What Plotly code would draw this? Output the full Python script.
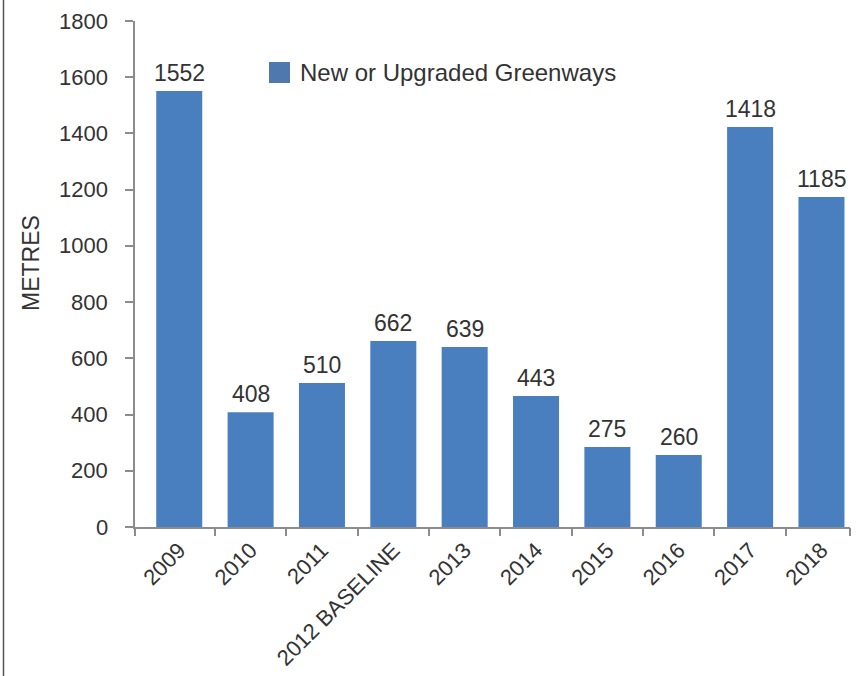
import plotly.graph_objects as go

categories = ["2009", "2010", "2011", "2012 BASELINE", "2013", "2014", "2015", "2016", "2017", "2018"]
bar_heights = [1551, 408, 512, 662, 640, 466, 285, 256, 1423, 1174]
value_labels = ["1552", "408", "510", "662", "639", "443", "275", "260", "1418", "1185"]
series_name = "New or Upgraded Greenways"
y_title = "METRES"
y_ticks = [0, 200, 400, 600, 800, 1000, 1200, 1400, 1600, 1800]

FONT = "Liberation Sans"
TXT = "#333333"
BAR = "#4A7FBF"
AX = "#8C8C8C"
X_RANGE = [-0.62, 9.40]

n = len(categories)
boundary_ticks = [X_RANGE[0]] + [i + 0.5 for i in range(n - 1)] + [X_RANGE[1]]

fig = go.Figure()
fig.add_trace(go.Bar(
    x=categories, y=bar_heights, name=series_name,
    marker=dict(color=BAR, line=dict(width=0)),
    width=0.645, showlegend=False,
))
# invisible helper trace so the boundary-tick overlay axis is drawn
fig.add_trace(go.Scatter(
    x=boundary_ticks, y=[0] * len(boundary_ticks), xaxis="x2", yaxis="y",
    mode="markers", marker=dict(opacity=0), showlegend=False, hoverinfo="skip",
))

# value labels (category index positions; numeric-looking names would be read as indices)
for i, (h, t) in enumerate(zip(bar_heights, value_labels)):
    fig.add_annotation(x=i, y=h, text=t, showarrow=False, yanchor="bottom",
                       yshift=3, font=dict(family=FONT, size=23, color=TXT))

# y tick labels placed through the y scale
for v in y_ticks:
    fig.add_annotation(xref="paper", yref="y", x=0, y=v, text=str(v), showarrow=False,
                       xanchor="right", yanchor="middle", xshift=-25,
                       font=dict(family=FONT, size=22, color=TXT))

# y axis title
fig.add_annotation(xref="paper", yref="paper", x=(31 - 135) / 715, y=(527 - 263) / 506,
                   text=y_title, textangle=-90, showarrow=False,
                   xanchor="center", yanchor="middle",
                   font=dict(family=FONT, size=23, color=TXT))

# legend drawn manually (large swatch)
fig.add_shape(type="rect", xref="paper", yref="paper",
              x0=(269 - 135) / 715, x1=(290 - 135) / 715,
              y0=(527 - 83) / 506, y1=(527 - 62) / 506,
              fillcolor="#4E78AE", line=dict(width=0))
fig.add_annotation(xref="paper", yref="paper", x=(298 - 135) / 715, y=(527 - 72.5) / 506,
                   text=series_name, showarrow=False, xanchor="left", yanchor="middle",
                   font=dict(family=FONT, size=24, color=TXT))

# left border line
fig.add_shape(type="line", xref="paper", yref="paper",
              x0=(3.5 - 135) / 715, x1=(3.5 - 135) / 715,
              y0=-149 / 506, y1=1 + 21 / 506,
              line=dict(color="#555555", width=1.5))

fig.update_layout(
    width=857, height=676,
    margin=dict(l=135, r=7, t=21, b=149),
    paper_bgcolor="white", plot_bgcolor="white",
    font=dict(family=FONT, size=22, color=TXT),
    xaxis=dict(
        type="category", range=X_RANGE, tickangle=-45, ticks="",
        automargin=False, showline=True, linecolor=AX, linewidth=1.5, showgrid=False,
        tickfont=dict(family=FONT, size=22, color=TXT),
    ),
    xaxis2=dict(overlaying="x", anchor="y", side="bottom", type="linear", range=X_RANGE,
                tickvals=boundary_ticks, ticks="outside", ticklen=8, tickcolor=AX, tickwidth=1.5,
                showticklabels=False, showgrid=False, zeroline=False, showline=False,
                automargin=False),
    yaxis=dict(
        range=[0, 1800], tickvals=y_ticks, ticks="outside", ticklen=8, automargin=False,
        tickcolor=AX, tickwidth=1.5, showline=True, linecolor=AX, linewidth=1.5,
        showgrid=False, zeroline=False, showticklabels=False,
    ),
)

fig.write_html("out.html", config={"displayModeBar": False},
               post_script="document.body.style.margin='0';document.body.style.overflow='hidden';")
